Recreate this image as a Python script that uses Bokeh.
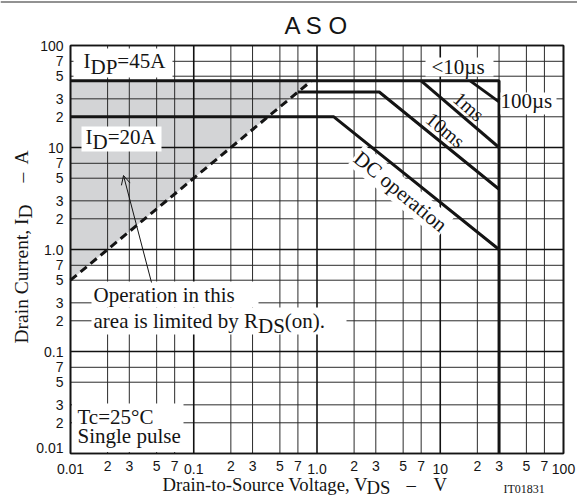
import math
from bokeh.plotting import figure
from bokeh.models import (Label, LabelSet, ColumnDataSource, BoxAnnotation, Arrow,
                          OpenHead, Range1d, Span)
from bokeh.core.properties import value
from bokeh.embed import file_html
from bokeh.resources import INLINE

# ---------------- data (V, A) ----------------
outline_v = [0.01, 30, 30]          # IDP = 45A plateau, then VDSS = 30V
outline_i = [45, 45, 0.01]
us100_v = [17.5, 30]
us100_i = [45, 28]
ms1_v = [7.0, 30]
ms1_i = [45, 10]
ms10_v = [0.7, 3.2, 30]
ms10_i = [35, 35, 3.9]
dc_v = [0.01, 1.37, 30]
dc_i = [20, 20, 1.0]
rds_v = [0.01, 0.9]                 # RDS(on) limit
rds_i = [0.5, 45]
area_v = [0.01, 0.9, 0.01]          # shaded region limited by RDS(on)
area_i = [0.5, 45, 45]

axis_min, axis_max = 0.01, 100
decades = [0.01, 0.1, 1, 10, 100]
minors = [0.02, 0.03, 0.05, 0.07, 0.2, 0.3, 0.5, 0.7, 2, 3, 5, 7, 20, 30, 50, 70]
tick_values = [0.01, 0.02, 0.03, 0.05, 0.07, 0.1, 0.2, 0.3, 0.5, 0.7,
               1, 2, 3, 5, 7, 10, 20, 30, 50, 70, 100]
x_tick_labels = ["0.01", "2", "3", "5", "7", "0.1", "2", "3", "5", "7",
                 "1.0", "2", "3", "5", "7", "10", "2", "3", "5", "7", "100"]
y_tick_labels = ["0.01", "2", "3", "5", "7", "0.1", "2", "3", "5", "7",
                 "1.0", "2", "3", "5", "7", "10", "2", "3", "5", "7", "100"]

# ---------------- layout helpers (page pixels) ----------------
W, H = 577, 498
FL, FR, FT, FB = 70, 563, 45, 453     # plot area edges


def xd(px):
    return 10 ** (-2 + 4 * (px - FL) / (FR - FL))


def yd(py):
    return 10 ** (2 - 4 * (py - FT) / (FB - FT))


SERIF = "Liberation Serif"
SANS = "Liberation Sans"
INK = "#141414"

p = figure(width=W, height=H, x_axis_type="log", y_axis_type="log",
           x_range=Range1d(xd(0), xd(W)), y_range=Range1d(yd(H), yd(0)),
           x_axis_location=None, y_axis_location=None,
           toolbar_location=None, output_backend="svg", title=None,
           min_border_left=0, min_border_right=0, min_border_top=0, min_border_bottom=0)
p.background_fill_color = "white"
p.border_fill_color = "white"
p.outline_line_color = None
p.xgrid.visible = False
p.ygrid.visible = False

# page rule at the very top
p.add_layout(Span(location=yd(1.5), dimension="width", line_color="#6e6e6e", line_width=1.5))

# shaded RDS(on)-limited area
p.patch(area_v, area_i, fill_color="#d3d4d6", line_color=None)

# grid lines
n_min, n_dec = len(minors), len(decades)
p.segment(x0=minors, y0=[axis_min] * n_min, x1=minors, y1=[axis_max] * n_min,
          line_color="#2b2b2b", line_width=1.0)
p.segment(x0=[axis_min] * n_min, y0=minors, x1=[axis_max] * n_min, y1=minors,
          line_color="#2b2b2b", line_width=1.0)
p.segment(x0=decades, y0=[axis_min] * n_dec, x1=decades, y1=[axis_max] * n_dec,
          line_color="#111111", line_width=1.6)
p.segment(x0=[axis_min] * n_dec, y0=decades, x1=[axis_max] * n_dec, y1=decades,
          line_color="#111111", line_width=1.6)
p.quad(left=[axis_min], right=[axis_max], bottom=[axis_min], top=[axis_max],
       fill_color=None, line_color=INK, line_width=1.6)

# SOA curves
for xs, ys in [(outline_v, outline_i), (us100_v, us100_i), (ms1_v, ms1_i),
               (ms10_v, ms10_i), (dc_v, dc_i)]:
    p.line(xs, ys, line_color=INK, line_width=3)
p.line(rds_v, rds_i, line_color=INK, line_width=3, line_dash="8 5")

# white label backgrounds
for x0, x1, y0, y1 in [(73, 172, 48, 77), (81, 161, 126, 151), (91, 258, 281, 307),
                       (91, 346, 307, 334), (425, 493, 57, 76), (500, 556, 92, 114),
                       (71.5, 183, 403, 451.5)]:
    p.add_layout(BoxAnnotation(left=xd(x0), right=xd(x1), top=yd(y0), bottom=yd(y1),
                               fill_color="white", fill_alpha=1.0, line_color=None))

p.add_layout(Arrow(end=OpenHead(size=9, line_width=1, line_color=INK),
                   x_start=xd(151), y_start=yd(282), x_end=xd(123), y_end=yd(175),
                   line_width=1, line_color=INK))


def label(text, px, py, size=21, font=SERIF, align="left", baseline="alphabetic",
          angle=0.0, bg=None):
    """px, py: page pixel of the anchor; for 'alphabetic' it is the text baseline."""
    if baseline == "alphabetic":
        shift = 0.32 * size
        if abs(angle - math.pi / 2) < 1e-6:
            px -= shift
        else:
            py -= shift
        baseline = "middle"
    kw = {}
    if bg:
        kw = dict(background_fill_color=bg, padding=1)
    p.add_layout(Label(x=xd(px), y=yd(py), text=text, text_font=font,
                       text_font_size=f"{size}px", text_align=align,
                       text_baseline=baseline, angle=angle, text_color=INK, **kw))


# title
label("A S O", 316, 33, size=24, font=SANS, align="center")

# in-plot labels
label("I", 83, 67)
label("DP", 90, 73)
label("=45A", 116.8, 67)
label("I", 85, 143)
label("D", 92, 148.5)
label("=20A", 107.2, 143)
label("Operation in this", 93, 301)
label("area is limited by R", 93, 327)
label("DS", 257.5, 332)
label("(on).", 284.3, 327)
label("Tc=25°C", 77, 423)
label("Single pulse", 77, 442)
label("<10µs", 431, 73)
label("100µs", 500, 107)
label("1ms", 468.5, 106, size=20, align="center", baseline="middle", angle=-0.72)
label("10ms", 445, 129.5, size=20, align="center", baseline="middle", angle=-0.69)
label("DC operation", 400, 191, size=21, align="center", baseline="middle",
      angle=-0.69, bg="white")

# axis titles
label("Drain-to-Source Voltage, V", 162, 489.5, size=18.7)
label("DS", 366, 492.5, size=18.7)
label("–", 406, 489.5, size=18.7)
label("V", 433, 489.5, size=18.7)
label("IT01831", 503, 492, size=12)

label("Drain Current, I", 27, 343, size=19.5, angle=math.pi / 2)
label("D", 31, 218, size=19.5, angle=math.pi / 2)
label("–", 27, 182, size=19.5, angle=math.pi / 2)
label("A", 27, 164, size=19.5, angle=math.pi / 2)

# tick labels
x_y = [yd(468) if v in decades else yd(465) for v in tick_values]
p.add_layout(LabelSet(source=ColumnDataSource(dict(x=tick_values, y=x_y, t=x_tick_labels)),
                      x="x", y="y", text="t", text_font=value(SANS),
                      text_font_size="14px", text_align="center",
                      text_baseline="middle", text_color=INK))
y_pos = [yd(447) if v == 0.01 else v for v in tick_values]
p.add_layout(LabelSet(source=ColumnDataSource(dict(x=[xd(63)] * len(tick_values), y=y_pos,
                                                   t=y_tick_labels)),
                      x="x", y="y", text="t", text_font=value(SANS),
                      text_font_size="14px", text_align="right",
                      text_baseline="middle", text_color=INK))

open("out.html", "w").write(file_html(p, INLINE))
